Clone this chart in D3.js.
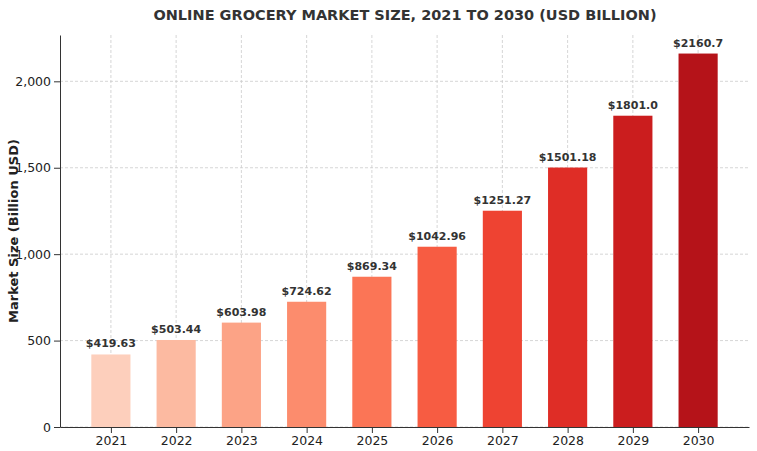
<!DOCTYPE html>
<html><head><meta charset="utf-8">
<script src="https://cdn.jsdelivr.net/npm/d3@7"></script>
<style>body{margin:0;background:#fff;font-family:"DejaVu Sans",sans-serif}</style>
</head><body><svg id="chart" width="757" height="451"></svg>
<script>
const years = ["2021","2022","2023","2024","2025","2026","2027","2028","2029","2030"];
const sizes = [419.63, 503.44, 603.98, 724.62, 869.34, 1042.96, 1251.27, 1501.18, 1801.0, 2160.7];
const labels = ["$419.63","$503.44","$603.98","$724.62","$869.34","$1042.96","$1251.27","$1501.18","$1801.0","$2160.7"];
const yTicks = [0, 500, 1000, 1500, 2000];

const svg = d3.select("#chart");
const m = {left: 60, right: 8, top: 35, bottom: 24};
const W = 757, H = 451;

const x = d3.scaleLinear().domain([-0.78, 9.78]).range([m.left, W - m.right]);
const y = d3.scaleLinear().domain([0, 2268]).range([H - m.bottom, m.top]);
const step = x(1) - x(0);
const color = i => d3.interpolateReds(0.18 + 0.64 * i / 9);

// grid
svg.append("g").selectAll("line").data(yTicks).join("line")
  .attr("x1", m.left).attr("x2", W - m.right)
  .attr("y1", d => y(d)).attr("y2", d => y(d))
  .attr("stroke", "#ccc").attr("stroke-dasharray", "3,2").attr("stroke-width", 0.8);
svg.append("g").selectAll("line").data(years).join("line")
  .attr("x1", (d, i) => x(i)).attr("x2", (d, i) => x(i))
  .attr("y1", m.top).attr("y2", H - m.bottom)
  .attr("stroke", "#ccc").attr("stroke-dasharray", "3,2").attr("stroke-width", 0.8);

// bars
svg.append("g").selectAll("rect").data(sizes).join("rect")
  .attr("x", (d, i) => x(i) - step * 0.3).attr("width", step * 0.6)
  .attr("y", d => y(d)).attr("height", d => y(0) - y(d))
  .attr("fill", (d, i) => color(i));

svg.append("g").selectAll("text").data(sizes).join("text")
  .attr("x", (d, i) => x(i)).attr("y", d => y(d) - 7)
  .attr("text-anchor", "middle").attr("font-size", 11).attr("font-weight", "bold")
  .attr("fill", "#333").text((d, i) => labels[i]);

// axes
const xa = svg.append("g").attr("transform", `translate(0,${H - m.bottom})`)
  .call(d3.axisBottom(x).tickValues(d3.range(10)).tickFormat(i => years[i]).tickSizeOuter(0));
const ya = svg.append("g").attr("transform", `translate(${m.left},0)`)
  .call(d3.axisLeft(y).tickValues(yTicks).tickSizeOuter(0));
[xa, ya].forEach(a => {
  a.selectAll("text").attr("font-size", 12.5).attr("fill", "#222").attr("font-family", "DejaVu Sans");
  a.select(".domain").attr("stroke", "#333");
  a.selectAll(".tick line").attr("stroke", "#333");
});

svg.append("text").attr("x", 405).attr("y", 20).attr("text-anchor", "middle")
  .attr("font-size", 14.5).attr("font-weight", "bold").attr("fill", "#333")
  .text("ONLINE GROCERY MARKET SIZE, 2021 TO 2030 (USD BILLION)");
svg.append("text").attr("transform", `translate(18,${(m.top + H - m.bottom) / 2}) rotate(-90)`)
  .attr("text-anchor", "middle").attr("font-size", 13).attr("font-weight", "bold").attr("fill", "#222")
  .text("Market Size (Billion USD)");
</script></body></html>
